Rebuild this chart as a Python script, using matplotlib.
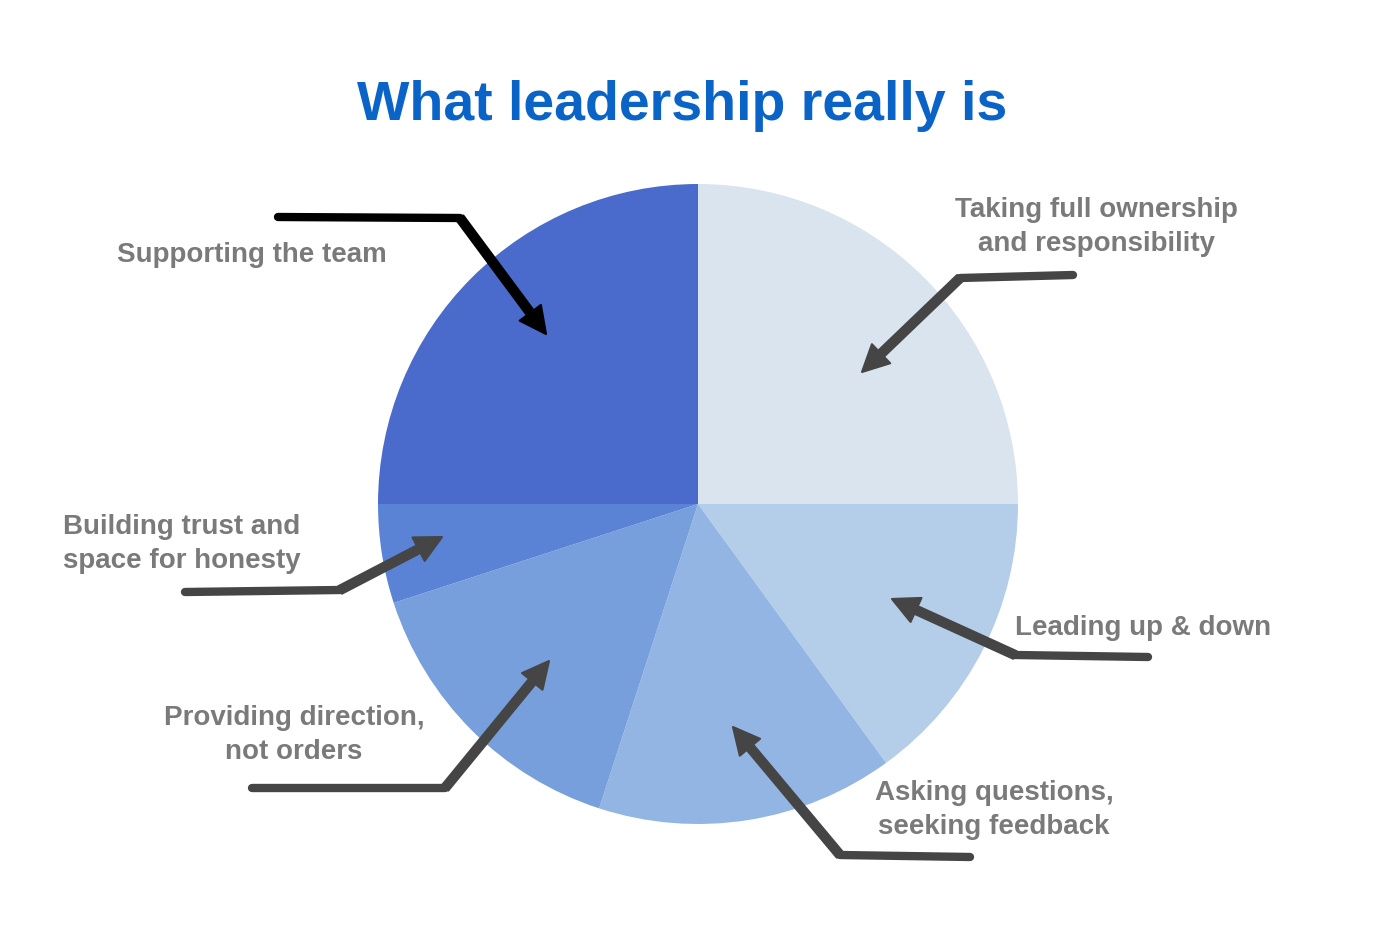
import matplotlib.pyplot as plt

plt.rcParams["font.family"] = ["Liberation Sans", "DejaVu Sans"]

# Slices, clockwise from 12 o'clock
labels = [
    "Taking full ownership\nand responsibility",
    "Leading up & down",
    "Asking questions,\nseeking feedback",
    "Providing direction,\nnot orders",
    "Building trust and\nspace for honesty",
    "Supporting the team",
]
shares = [25, 15, 15, 15, 5, 25]
colors = ["#dae4ef", "#b4cde8", "#93b5e3", "#779fdc", "#5a83d6", "#4a6bcc"]

# label placement (pixel coords, y from top) and alignment
label_pos = [(1096, 227), (1143, 628), (994, 810), (294, 735), (63, 544), (252, 255)]
label_ha = ["center", "center", "center", "center", "left", "center"]

# hand-drawn style arrows: tail, bend, head (pixel coords, y from top)
arrows = [
    [(1073, 275), (960, 278), (862, 372)],
    [(1148, 657), (1015, 655), (892, 599)],
    [(970, 857), (840, 855), (733, 727)],
    [(252, 788), (445, 788), (549, 661)],
    [(185, 592), (340, 590), (442, 537)],
    [(278, 217), (460, 218), (546, 334)],
]
arrow_colors = ["#454545", "#454545", "#454545", "#454545", "#454545", "#000000"]

W, H = 1400, 942
fig = plt.figure(figsize=(14, 9.42), dpi=100)
ax = fig.add_axes([0, 0, 1, 1])

ax.pie(shares, colors=colors, startangle=90, counterclock=False,
       center=(698, H - 504), radius=320,
       wedgeprops=dict(linewidth=0))

for lab, (x, y), ha in zip(labels, label_pos, label_ha):
    ax.text(x, H - y, lab, ha=ha, va="center", fontsize=20, fontweight="bold",
            color="#7a7a7a", linespacing=1.4)

for pts, c in zip(arrows, arrow_colors):
    xs = [p[0] for p in pts]
    ys = [H - p[1] for p in pts]
    ax.plot(xs[:2], ys[:2], color=c, lw=6, solid_capstyle="round",
            solid_joinstyle="round")
    ax.annotate("", xy=(xs[2], ys[2]), xytext=(xs[1], ys[1]),
                arrowprops=dict(arrowstyle="simple,head_length=0.95,head_width=0.95,tail_width=0.3",
                                mutation_scale=20, fc=c, ec=c, lw=1.5,
                                joinstyle="round", shrinkA=0, shrinkB=0))

ax.text(682, H - 106, "What leadership really is", ha="center", va="center",
        fontsize=40, fontweight="bold", color="#0a64c8")

ax.set_xlim(0, W)
ax.set_ylim(0, H)
ax.set_aspect("equal")
ax.set_axis_off()

fig.savefig("out.png", dpi=100, facecolor="white")
